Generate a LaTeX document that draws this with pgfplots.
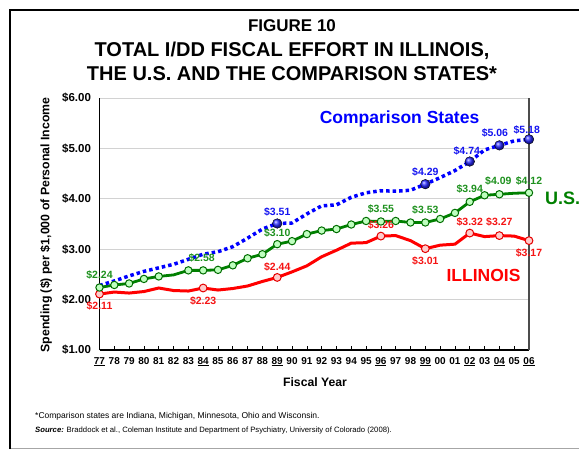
\documentclass[border=0pt]{standalone}
\usepackage{pgfplots}
\usepackage{pgfplotstable}
\pgfplotsset{compat=1.18}
\usepackage{fontspec}
\setmainfont{Liberation Sans}
\definecolor{usgreen}{RGB}{0,128,0}
\definecolor{lblgreen}{RGB}{30,145,30}
\definecolor{compblue}{RGB}{0,0,255}
\definecolor{lblblue}{RGB}{20,20,240}
\definecolor{ilred}{RGB}{255,0,0}
\definecolor{lblred}{RGB}{245,20,20}

\pgfplotstableread{
x comp us il
0 2.28 2.24 2.11
1 2.37 2.29 2.15
2 2.47 2.32 2.13
3 2.56 2.41 2.16
4 2.63 2.46 2.23
5 2.70 2.49 2.18
6 2.80 2.58 2.17
7 2.90 2.58 2.23
8 2.95 2.59 2.19
9 3.05 2.68 2.22
10 3.22 2.82 2.27
11 3.40 2.90 2.36
12 3.51 3.10 2.44
13 3.52 3.16 2.55
14 3.70 3.30 2.67
15 3.86 3.37 2.85
16 3.88 3.40 2.98
17 4.03 3.49 3.12
18 4.12 3.56 3.13
19 4.16 3.55 3.26
20 4.15 3.56 3.27
21 4.17 3.53 3.17
22 4.29 3.53 3.01
23 4.42 3.60 3.08
24 4.56 3.72 3.10
25 4.74 3.94 3.32
26 4.97 4.07 3.25
27 5.06 4.09 3.27
28 5.15 4.11 3.26
29 5.18 4.12 3.17
}\data

\begin{document}
\begin{tikzpicture}
\useasboundingbox (0,0) rectangle (579pt,-450pt);
% frame
\draw[gray!70, line width=1pt] (10pt,-448pt) -- (579pt,-448pt);
\draw[black, line width=2.4pt] (10pt,-449pt) -- (10pt,-10pt) -- (580pt,-10pt);
% title
\node[anchor=base, font=\fontsize{17}{20}\selectfont\bfseries] at (292pt,-31.7pt) {FIGURE 10};
\node[anchor=base, font=\fontsize{20}{24}\selectfont\bfseries] at (292pt,-56.7pt) {TOTAL I/DD FISCAL EFFORT IN ILLINOIS,};
\node[anchor=base, font=\fontsize{20}{24}\selectfont\bfseries] at (292pt,-80pt) {THE U.S. AND THE COMPARISON STATES*};
% axis labels
\node[rotate=90, font=\fontsize{12.3}{14}\selectfont\bfseries] at (46pt,-225pt) {Spending (\$) per \$1,000 of Personal Income};
\node[font=\fontsize{12.2}{14}\selectfont\bfseries] at (315pt,-382pt) {Fiscal Year};
% footnotes
\node[anchor=base west, inner sep=0pt, font=\fontsize{8.5}{10}\selectfont] at (35pt,-418pt) {*Comparison states are Indiana, Michigan, Minnesota, Ohio and Wisconsin.};
\node[anchor=base west, inner sep=0pt, font=\fontsize{7.7}{9}\selectfont] at (35pt,-432pt) {\textbf{\textit{Source:}} Braddock et al., Coleman Institute and Department of Psychiatry, University of Colorado (2008).};

\begin{axis}[
  at={(99.5pt,-350pt)}, anchor=south west,
  scale only axis, width=429.5pt, height=252pt,
  xmin=0, xmax=29, ymin=1, ymax=6,
  xtick={0,...,29},
  xticklabels={\underline{77},78,79,80,81,82,83,\underline{84},85,86,87,88,\underline{89},90,91,92,93,94,95,\underline{96},97,98,\underline{99},00,01,\underline{02},03,\underline{04},05,\underline{06}},
  ytick={1,2,3,4,5,6},
  yticklabels={\$1.00,\$2.00,\$3.00,\$4.00,\$5.00,\$6.00},
  ymajorgrids, grid style={gray!35, line width=0.9pt},
  axis x line*=bottom, axis y line*=left,
  axis line style={black, line width=1.6pt, -},
  tick align=inside, xtick style={black, line width=0.6pt}, major tick length=4pt,
  ytick style={draw=none},
  xticklabel style={font=\fontsize{10}{12}\selectfont\bfseries, inner sep=1pt, yshift=-6pt},
  yticklabel style={font=\fontsize{11.5}{13}\selectfont\bfseries, xshift=-5pt},
  clip=false,
]
\addplot[ilred, line width=3pt, mark=*, mark size=3.9pt,
  mark indices={1,8,13,20,23,26,28,30},
  mark options={fill=white!80!red, draw=ilred!90!black, line width=1pt}] table[x=x,y=il]{\data};
\addplot[usgreen, line width=2.8pt, mark=*, mark size=3.7pt,
  mark indices={1,2,3,4,5,7,8,9,10,11,12,13,14,15,16,17,18,19,20,21,22,23,24,25,26,27,28,30},
  mark options={fill=white!75!green, draw=usgreen!85!black, line width=1pt}] table[x=x,y=us]{\data};
\addplot[compblue, line width=3.5pt, dash pattern=on 3.5pt off 3pt, no marks] table[x=x,y=comp]{\data};
\addplot[only marks, mark=ball, ball color=compblue!85!white, mark size=4.8pt,
  mark indices={13,23,26,28,30}] table[x=x,y=comp]{\data};

\draw[gray!60!black, line width=1.2pt] (rel axis cs:1,0) -- (rel axis cs:1,1);

\begin{scope}[every node/.style={font=\fontsize{10.5}{12}\selectfont\bfseries}]
% blue labels
\node[text=lblblue] at (axis cs:12,3.744) {\$3.51};
\node[text=lblblue] at (axis cs:22,4.532) {\$4.29};
\node[text=lblblue] at (axis cs:24.8,4.954) {\$4.74};
\node[text=lblblue] at (axis cs:26.7,5.30) {\$5.06};
\node[text=lblblue] at (axis cs:28.85,5.365) {\$5.18};
% green labels
\node[text=lblgreen] at (axis cs:0,2.488) {\$2.24};
\node[text=lblgreen] at (axis cs:6.9,2.82) {\$2.58};
\node[text=lblgreen] at (axis cs:12,3.327) {\$3.10};
\node[text=lblgreen] at (axis cs:19,3.79) {\$3.55};
\node[text=lblgreen] at (axis cs:22,3.778) {\$3.53};
\node[text=lblgreen] at (axis cs:25,4.19) {\$3.94};
\node[text=lblgreen] at (axis cs:26.93,4.36) {\$4.09};
\node[text=lblgreen] at (axis cs:29,4.36) {\$4.12};
% red labels
\node[text=lblred] at (axis cs:0,1.873) {\$2.11};
\node[text=lblred] at (axis cs:7,1.978) {\$2.23};
\node[text=lblred] at (axis cs:12,2.653) {\$2.44};
\node[text=lblred] at (axis cs:19,3.48) {\$3.26};
\node[text=lblred] at (axis cs:22,2.772) {\$3.01};
\node[text=lblred] at (axis cs:25,3.534) {\$3.32};
\node[text=lblred] at (axis cs:27,3.534) {\$3.27};
\node[text=lblred] at (axis cs:29,2.93) {\$3.17};
\end{scope}
\node[text=compblue, font=\fontsize{17.5}{20}\selectfont\bfseries] at (axis cs:20.26,5.58) {Comparison States};
\node[text=ilred, font=\fontsize{17.5}{20}\selectfont\bfseries] at (axis cs:25.93,2.488) {ILLINOIS};
\node[text=usgreen, anchor=west, inner sep=0pt, font=\fontsize{18}{20}\selectfont\bfseries] at (axis cs:30.08,4.016) {U.S.};
\end{axis}
\end{tikzpicture}
\end{document}
